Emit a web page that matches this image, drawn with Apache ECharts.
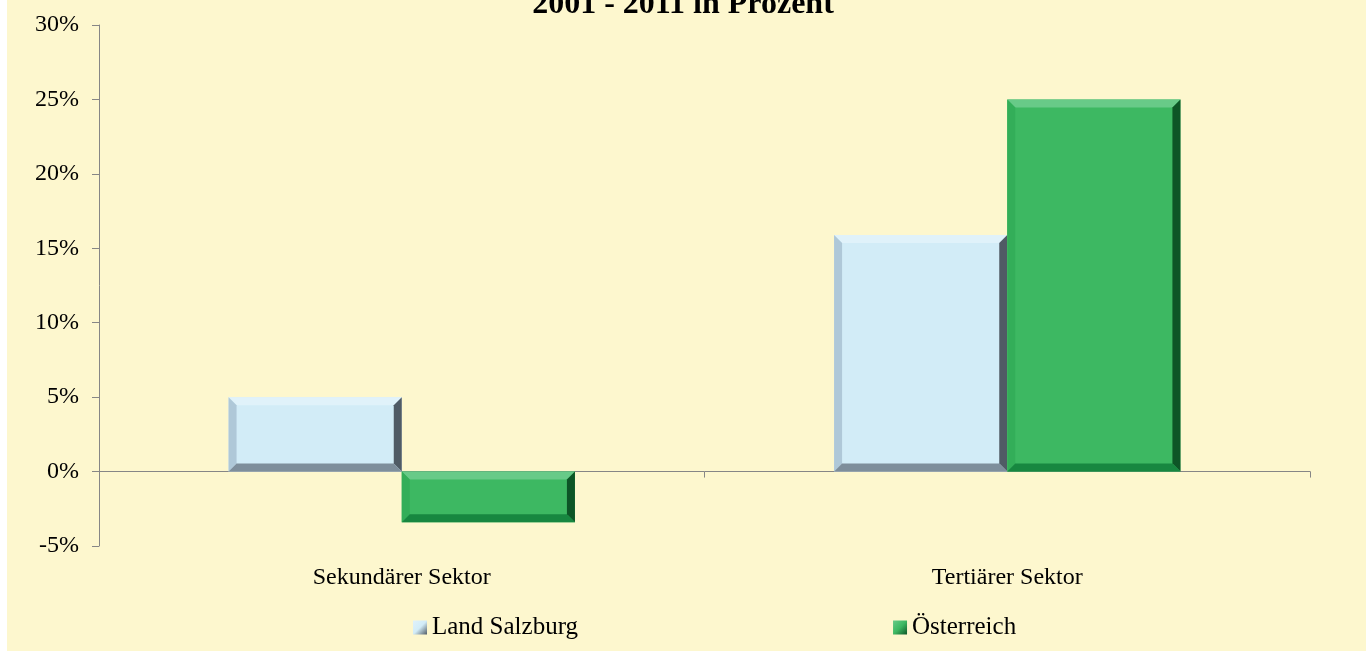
<!DOCTYPE html>
<html>
<head>
<meta charset="utf-8">
<title>Beschäftigte nach Sektoren 2001 - 2011</title>
<script src="https://cdn.jsdelivr.net/npm/echarts@6/dist/echarts.min.js"></script>
<style>
  html, body { margin: 0; padding: 0; background: #ffffff; }
  #chart { width: 1366px; height: 651px; }
</style>
</head>
<body>
<div id="chart"></div>
<script>
// Veränderung 2001 - 2011 in Prozent
const categories = ['Sekundärer Sektor', 'Tertiärer Sektor'];
const seriesNames = ['Land Salzburg', 'Österreich'];
const landSalzburg = [5.0, 15.9];
const oesterreich = [-3.4, 25.0];
const yTicks = { min: -5, max: 30, step: 5 };

const SERIF = "'Liberation Serif', 'Times New Roman', serif";

// Bevel palettes: face, top, left, right, bottom edges
const bevel = [
  { face: '#D2ECF7', top: '#E0F2FA', left: '#AFC8D8', right: '#505B65', bottom: '#7E8E9B' },
  { face: '#3DB862', top: '#68CA88', left: '#33AE59', right: '#0D5526', bottom: '#178740' }
];

// share of the category band taken by one bar
const BAR_RATIO = 0.286;
const EDGE = 8;

function renderBevelBar(params, api) {
  const ci = api.value(0);
  const v = api.value(1);
  const band = api.size([1, 0])[0];
  const bw = band * BAR_RATIO;
  const base = api.coord([ci, 0]);
  const tip = api.coord([ci, v]);
  const s = params.seriesIndex;
  const x0 = base[0] - bw + s * bw;
  const x1 = x0 + bw;
  const yT = Math.min(base[1], tip[1]);
  const yB = Math.max(base[1], tip[1]);
  const e = Math.min(EDGE, (yB - yT) / 2, bw / 2);
  const c = bevel[s];
  const poly = (pts, fill) => ({ type: 'polygon', shape: { points: pts }, style: { fill: fill } });
  return {
    type: 'group',
    children: [
      { type: 'rect', shape: { x: x0, y: yT, width: bw, height: yB - yT }, style: { fill: c.face } },
      poly([[x0, yT], [x1, yT], [x1 - e, yT + e], [x0 + e, yT + e]], c.top),
      poly([[x0, yT], [x0 + e, yT + e], [x0 + e, yB - e], [x0, yB]], c.left),
      poly([[x1, yT], [x1, yB], [x1 - e, yB - e], [x1 - e, yT + e]], c.right),
      poly([[x0, yB], [x0 + e, yB - e], [x1 - e, yB - e], [x1, yB]], c.bottom)
    ]
  };
}

function toPoints(values) {
  return values.map((v, i) => [i, v]);
}

function legendIcon(c) {
  return new echarts.graphic.LinearGradient(0, 0, 1, 1, [
    { offset: 0, color: c.top },
    { offset: 0.5, color: c.face },
    { offset: 1, color: c.right }
  ]);
}

const chart = echarts.init(document.getElementById('chart'), null, { renderer: 'canvas' });

chart.setOption({
  backgroundColor: '#FDF7CE',
  animation: false,
  color: [bevel[0].face, bevel[1].face],
  graphic: [
    { type: 'rect', left: 0, top: 0, shape: { width: 7, height: 651 }, style: { fill: '#ffffff' }, z: -1 }
  ],
  title: {
    text: '2001 - 2011 in Prozent',
    left: 'center',
    top: -16,
    textStyle: { fontFamily: SERIF, fontSize: 32, fontWeight: 'bold', color: '#000000' }
  },
  legend: {
    left: 408,
    top: 610,
    itemWidth: 14,
    itemHeight: 14,
    itemGap: 315,
    icon: 'rect',
    textStyle: { fontFamily: SERIF, fontSize: 25, color: '#000000' },
    data: [
      { name: seriesNames[0], itemStyle: { color: legendIcon(bevel[0]) } },
      { name: seriesNames[1], itemStyle: { color: legendIcon(bevel[1]) } }
    ]
  },
  grid: { left: 99, right: 56, top: 25, bottom: 105, containLabel: false, outerBoundsMode: 'none' },
  xAxis: {
    type: 'category',
    data: categories,
    boundaryGap: true,
    axisLine: { onZero: true, lineStyle: { color: '#868686', width: 1 } },
    axisTick: { show: true, length: 6, lineStyle: { color: '#868686' } },
    axisLabel: { margin: 20, fontFamily: SERIF, fontSize: 24, color: '#000000' },
    splitLine: { show: false }
  },
  yAxis: {
    type: 'value',
    min: yTicks.min,
    max: yTicks.max,
    interval: yTicks.step,
    axisLine: { show: true, lineStyle: { color: '#868686', width: 1 } },
    axisTick: { show: true, length: 7, lineStyle: { color: '#868686' } },
    axisLabel: { margin: 20, fontFamily: SERIF, fontSize: 24, color: '#000000', formatter: '{value}%' },
    splitLine: { show: false }
  },
  series: [
    {
      name: seriesNames[0],
      type: 'custom',
      renderItem: renderBevelBar,
      encode: { x: 0, y: 1 },
      data: toPoints(landSalzburg)
    },
    {
      name: seriesNames[1],
      type: 'custom',
      renderItem: renderBevelBar,
      encode: { x: 0, y: 1 },
      data: toPoints(oesterreich)
    }
  ]
});
</script>
</body>
</html>
